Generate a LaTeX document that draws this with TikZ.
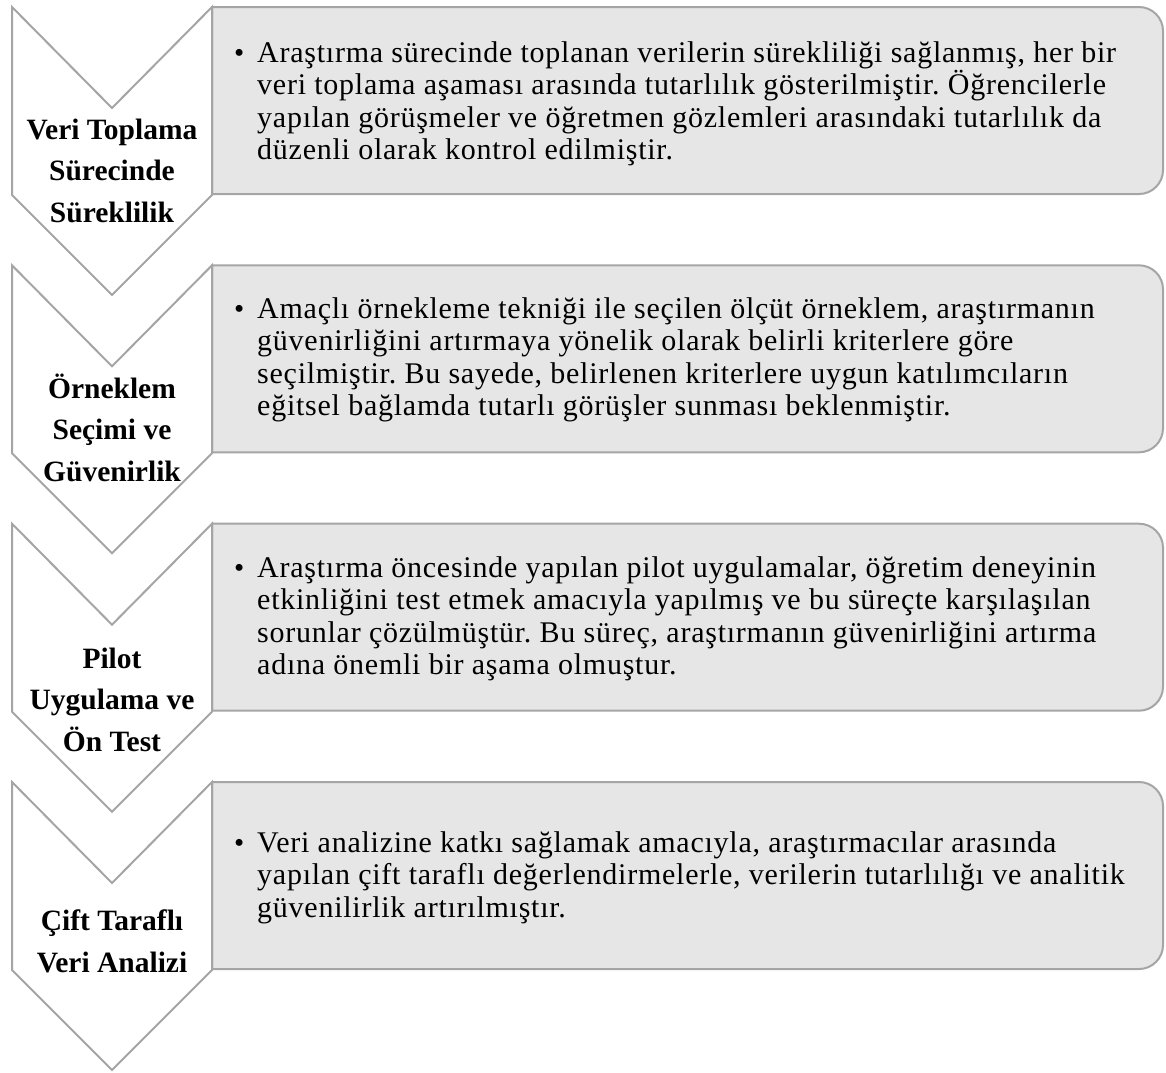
\documentclass[tikz,border=0pt]{standalone}
\usepackage{fontspec}
\setmainfont{Liberation Serif}
\newfontfamily\bodyfont[LetterSpace=2.5]{Liberation Serif}
\usepackage{tikz}
\usetikzlibrary{positioning}
\definecolor{edgegray}{HTML}{A5A5A5}
\definecolor{panelgray}{HTML}{E6E6E6}
\frenchspacing

\begin{document}
\begin{tikzpicture}[
    x=1pt, y=-1pt,
    chevron/.style    = {draw=edgegray, line width=2pt, fill=white},
    panel/.style      = {draw=edgegray, line width=2pt, fill=panelgray},
    steplabel/.style  = {font=\bfseries\fontsize{29.5}{41.5}\selectfont, align=center,
                          anchor=base, inner sep=0pt},
    bodytext/.style   = {font=\bodyfont\fontsize{30}{32.5}\selectfont, align=left,
                          anchor=base west, inner sep=0pt},
    bulletmark/.style = {font=\fontsize{29}{32.5}\selectfont, anchor=base west, inner sep=0pt},
]
\useasboundingbox (0,0) rectangle (1166,1072);

% One chevron and one text panel per step
\foreach \t in {7,265.3,523.7,782} {
    \draw[panel] (212,\t) -- (1139,\t) arc[start angle=-90, end angle=0, radius=24]
        -- (1163,\t+163) arc[start angle=0, end angle=90, radius=24] -- (212,\t+187) -- cycle;
    \draw[chevron] (12,\t) -- (112,\t+101) -- (212,\t) -- (212,\t+188)
        -- (112,\t+288) -- (12,\t+188) -- cycle;
}

% Step titles in the chevrons (placed by their last line)
\node[steplabel] (S1) at (112,222) {Veri Toplama\\Sürecinde\\Süreklilik};
\node[steplabel] (S2) at (112,481) {Örneklem\\Seçimi ve\\Güvenirlik};
\node[steplabel] (S3) at (112,751) {Pilot\\Uygulama ve\\Ön Test};
\node[steplabel] (S4) at (112,972) {Çift Taraflı\\Veri Analizi};

% Bulleted explanations in the panels (text placed by its last line)
\node[bulletmark] (D1) at (234,62) {\textbullet};
\node[bodytext] (T1) at (257,159.5) {Araştırma sürecinde toplanan verilerin sürekliliği sağlanmış, her bir\\
    veri toplama aşaması arasında tutarlılık gösterilmiştir. Öğrencilerle\\
    yapılan görüşmeler ve öğretmen gözlemleri arasındaki tutarlılık da\\
    düzenli olarak kontrol edilmiştir.};

\node[bulletmark] (D2) at (234,318) {\textbullet};
\node[bodytext] (T2) at (257,415.5) {Amaçlı örnekleme tekniği ile seçilen ölçüt örneklem, araştırmanın\\
    güvenirliğini artırmaya yönelik olarak belirli kriterlere göre\\
    seçilmiştir. Bu sayede, belirlenen kriterlere uygun katılımcıların\\
    eğitsel bağlamda tutarlı görüşler sunması beklenmiştir.};

\node[bulletmark] (D3) at (234,577) {\textbullet};
\node[bodytext] (T3) at (257,674.5) {Araştırma öncesinde yapılan pilot uygulamalar, öğretim deneyinin\\
    etkinliğini test etmek amacıyla yapılmış ve bu süreçte karşılaşılan\\
    sorunlar çözülmüştür. Bu süreç, araştırmanın güvenirliğini artırma\\
    adına önemli bir aşama olmuştur.};

\node[bulletmark] (D4) at (234,852) {\textbullet};
\node[bodytext] (T4) at (257,917) {Veri analizine katkı sağlamak amacıyla, araştırmacılar arasında\\
    yapılan çift taraflı değerlendirmelerle, verilerin tutarlılığı ve analitik\\
    güvenilirlik artırılmıştır.};

\end{tikzpicture}
\end{document}
